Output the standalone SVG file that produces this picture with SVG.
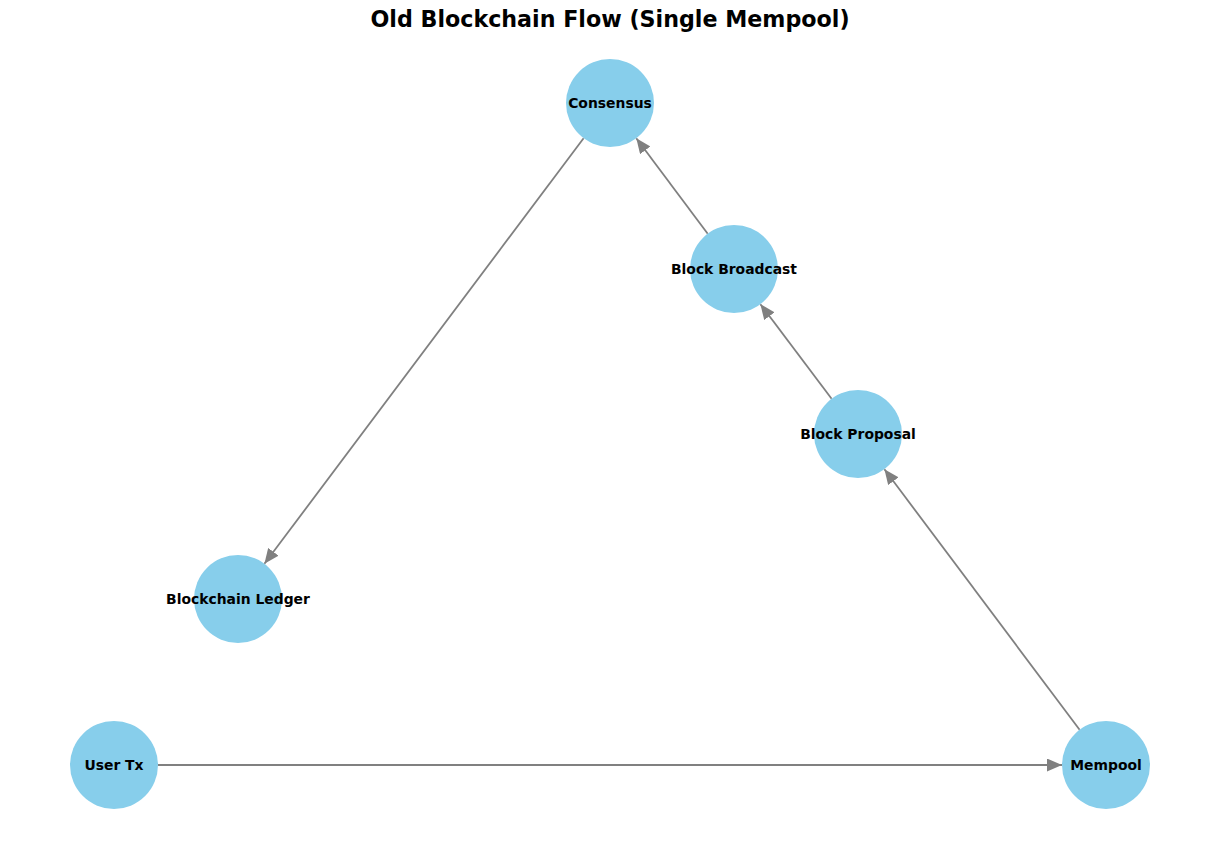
<svg xmlns="http://www.w3.org/2000/svg" width="1220" height="844" viewBox="0 0 1220 844">
<style>
.node circle{fill:#87CEEB;stroke:none}
.node text{font-family:"DejaVu Sans",sans-serif;font-weight:bold;font-size:13.9px;fill:#000;text-anchor:middle;dominant-baseline:central}
.edge{stroke:#808080;stroke-width:1.8;fill:none;marker-end:url(#arr)}
.title{font-family:"DejaVu Sans",sans-serif;font-weight:bold;font-size:22.2px;text-anchor:middle}
</style>
<defs>
<marker id="arr" viewBox="0 0 15 13" refX="15" refY="6.5" markerWidth="15" markerHeight="13" markerUnits="userSpaceOnUse" orient="auto">
<path d="M0,0 L15,6.5 L0,13 z" fill="#808080"/>
</marker>
</defs>
<rect width="1220" height="844" fill="#fff"/>
<text class="title" x="610" y="27">Old Blockchain Flow (Single Mempool)</text>
<g id="connectors">
<line class="edge" x1="158" y1="765" x2="1062" y2="765"/>
<line class="edge" x1="1079.6" y1="729.8" x2="884.4" y2="469.2"/>
<line class="edge" x1="831.6" y1="398.8" x2="760.4" y2="304.2"/>
<line class="edge" x1="707.7" y1="233.7" x2="636.3" y2="138.3"/>
<line class="edge" x1="583.6" y1="138.2" x2="264.4" y2="563.8"/>
</g>
<g id="consensus" class="node"><circle cx="610" cy="103" r="44"/><text x="610" y="103">Consensus</text></g>
<g id="block-broadcast" class="node"><circle cx="734" cy="269" r="44"/><text x="734" y="269">Block Broadcast</text></g>
<g id="block-proposal" class="node"><circle cx="858" cy="434" r="44"/><text x="858" y="434">Block Proposal</text></g>
<g id="blockchain-ledger" class="node"><circle cx="238" cy="599" r="44"/><text x="238" y="599">Blockchain Ledger</text></g>
<g id="user-tx" class="node"><circle cx="114" cy="765" r="44"/><text x="114" y="765">User Tx</text></g>
<g id="mempool" class="node"><circle cx="1106" cy="765" r="44"/><text x="1106" y="765">Mempool</text></g>
</svg>
